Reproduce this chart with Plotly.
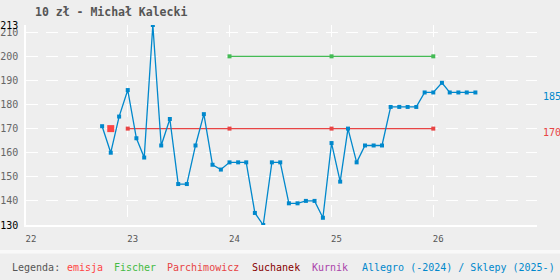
import plotly.graph_objects as go

# ---- data ----
months = ["2022-10", "2022-11", "2022-12", "2023-01", "2023-02", "2023-03", "2023-04", "2023-05", "2023-06",
          "2023-07", "2023-08", "2023-09", "2023-10", "2023-11", "2023-12", "2024-01", "2024-02", "2024-03",
          "2024-04", "2024-05", "2024-06", "2024-07", "2024-08", "2024-09", "2024-10", "2024-11", "2024-12",
          "2025-01", "2025-02", "2025-03", "2025-04", "2025-05", "2025-06", "2025-07", "2025-08", "2025-09",
          "2025-10", "2025-11", "2025-12", "2026-01", "2026-02", "2026-03", "2026-04", "2026-05", "2026-06"]
allegro = [171, 160, 175, 186, 166, 158, 213, 163, 174, 147, 147, 163, 176, 155, 153, 156, 156, 156,
           135, 130, 156, 156, 139, 139, 140, 140, 133, 164, 148, 170, 156, 163, 163, 163, 179, 179,
           179, 179, 185, 185, 189, 185, 185, 185, 185]
parch_dates = ["2023-01", "2024-01", "2025-01", "2026-01"]
parch_vals = [170, 170, 170, 170]
fischer_dates = ["2024-01", "2025-01", "2026-01"]
fischer_vals = [200, 200, 200]
emisja_dates = ["2022-11"]
emisja_vals = [170]
y_ticks = [130, 140, 150, 160, 170, 180, 190, 200, 210, 213]
x_ticks = ["2022-01-01", "2023-01-01", "2024-01-01", "2025-01-01", "2026-01-01"]
legend_items = [("Legenda:", "#555555"), ("emisja", "#ff4444"), ("Fischer", "#44bb44"),
                ("Parchimowicz", "#e84444"), ("Suchanek", "#880000"), ("Kurnik", "#aa44aa"),
                ("Allegro (-2024) / Sklepy (2025-)", "#0088cc")]
legend_px = [10, 64.5, 111.5, 164.5, 249.5, 309.5, 359.5]

W, H = 560, 280
L, R, T, B = 26, 537, 25, 225
FONT = "DejaVu Sans Mono"

BLUE = "#0088cc"
RED = "#e84444"
GREEN = "#44bb55"

def d(m):
    return m + "-01"

fig = go.Figure()
fig.add_trace(go.Scatter(x=[d(m) for m in parch_dates], y=parch_vals, mode="lines+markers",
                         line=dict(color=RED, width=1.2), marker=dict(symbol="square", size=4, color=RED)))
fig.add_trace(go.Scatter(x=[d(m) for m in fischer_dates], y=fischer_vals, mode="lines+markers",
                         line=dict(color=GREEN, width=1.2), marker=dict(symbol="square", size=4, color=GREEN)))
fig.add_trace(go.Scatter(x=[d(m) for m in emisja_dates], y=emisja_vals, mode="markers",
                         marker=dict(symbol="square", size=7, color="#ff4444")))
fig.add_trace(go.Scatter(x=[d(m) for m in months], y=allegro, mode="lines+markers",
                         line=dict(color=BLUE, width=1.3), marker=dict(symbol="square", size=4, color=BLUE)))

ytext = []
for v in y_ticks:
    if v in (y_ticks[0], y_ticks[-1]):
        ytext.append('<span style="color:#000000">%d</span>' % v)
    else:
        ytext.append(str(v))

fig.update_layout(
    width=W, height=H,
    margin=dict(l=L, r=W - R, t=T, b=H - B, autoexpand=False),
    paper_bgcolor="#eeeeee", plot_bgcolor="#eeeeee",
    showlegend=False,
    font=dict(family=FONT, size=10, color="#666666"),
    title=dict(text="<b>10 zł - Michał Kalecki</b>", x=35 / W, xanchor="left", xref="container",
               y=1 - 12 / H, yanchor="middle", yref="container",
               font=dict(family=FONT, size=11.5, color="#555555")),
)
fig.update_xaxes(type="date", range=["2022-01-01", "2027-01-08"], tickvals=x_ticks,
                 ticktext=[t[2:4] for t in x_ticks], showgrid=True, gridcolor="#ffffff",
                 griddash="12px,8px", gridwidth=1, zeroline=False, showline=True, linecolor="#ffffff",
                 linewidth=1.5, ticks="", tickfont=dict(size=9, color="#555555"),
                 ticklabelshift=5, ticklabelstandoff=4, automargin=False)
fig.update_yaxes(range=[130, 213], tickvals=y_ticks, ticktext=ytext, showgrid=True,
                 gridcolor="#ffffff", griddash="12px,8px", gridwidth=1, zeroline=False,
                 showline=True, linecolor="#ffffff", linewidth=1.5, ticks="",
                 tickfont=dict(size=10, color="#666666"), ticklabelstandoff=4, automargin=False)

def px_x(px):
    return (px - L) / (R - L)

def px_y(py):
    return (B - py) / (B - T)

# right-side value labels
fig.add_annotation(x=px_x(541), y=allegro[-1], xref="paper", yref="y", xanchor="left", yanchor="middle",
                   text=str(allegro[-1]), showarrow=False, yshift=-4,
                   font=dict(family=FONT, size=10, color=BLUE))
fig.add_annotation(x=px_x(541), y=parch_vals[-1], xref="paper", yref="y", xanchor="left", yanchor="middle",
                   text=str(parch_vals[-1]), showarrow=False, yshift=-4,
                   font=dict(family=FONT, size=10, color=RED))

# separator stripe
fig.add_shape(type="rect", xref="paper", yref="paper", x0=px_x(0), x1=px_x(W), y0=px_y(250), y1=px_y(253.5),
              fillcolor="#f9f9f9", line=dict(width=0), layer="below")

# legend text
for (txt, col), px in zip(legend_items, legend_px):
    fig.add_annotation(x=px_x(px), y=px_y(267), xref="paper", yref="paper", xanchor="left",
                       yanchor="middle", text=txt, showarrow=False,
                       font=dict(family=FONT, size=10, color=col))

fig.write_html("out.html")
